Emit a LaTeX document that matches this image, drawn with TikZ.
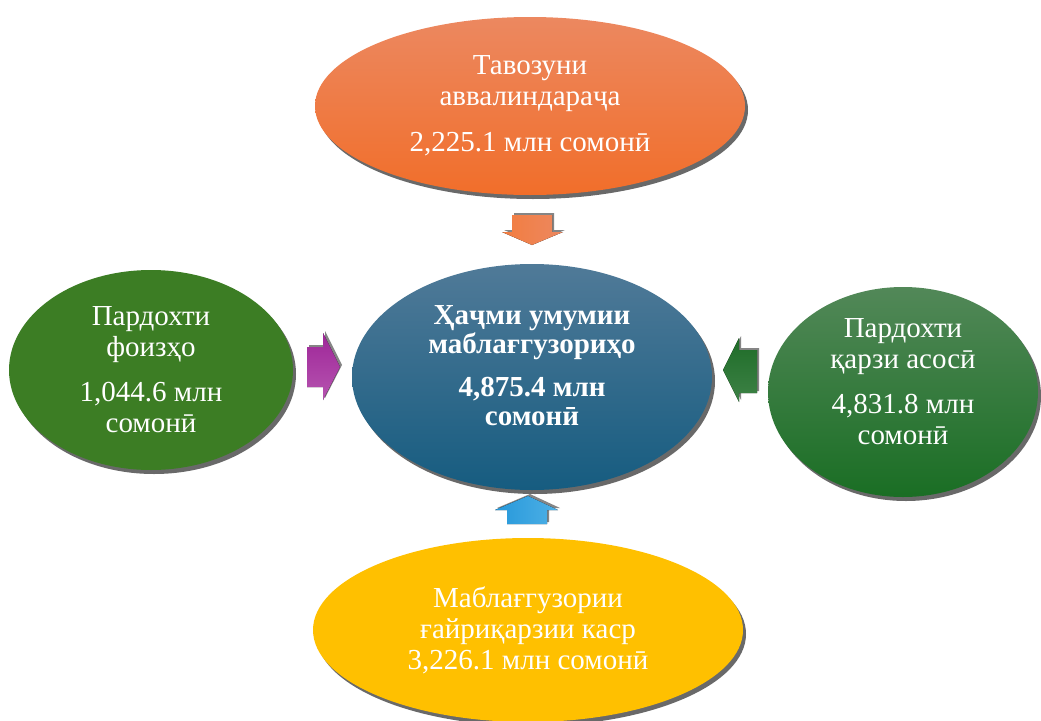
\documentclass[tikz,border=0pt]{standalone}
\usepackage{fontspec}
\setmainfont{Liberation Serif}
\usetikzlibrary{shapes.geometric}
\usetikzlibrary{shadows}

\definecolor{orangeTop}{RGB}{236,136,96}
\definecolor{orangeBot}{RGB}{241,110,42}
\definecolor{blueTop}{RGB}{80,122,152}
\definecolor{blueBot}{RGB}{22,92,128}
\definecolor{leafGreen}{RGB}{60,125,36}
\definecolor{forestTop}{RGB}{82,136,88}
\definecolor{forestBot}{RGB}{26,110,36}
\definecolor{goldFill}{RGB}{255,192,0}

\begin{document}
\begin{tikzpicture}[x=1pt,y=-1pt,
    blob/.style={ellipse,inner sep=0pt,
        drop shadow={shadow xshift=3pt,shadow yshift=-4pt,fill=black!65,opacity=0.9}},
    blobtext/.style={inner sep=0pt,text=white,align=center,
        font=\fontsize{29}{31}\selectfont},
    blockarrow/.style={
        drop shadow={shadow xshift=2pt,shadow yshift=2pt,fill=black!60,opacity=0.8}}]
    \useasboundingbox (0,0) rectangle (1041,720);

    % the total in the middle
    \node[blob,minimum width=360pt,minimum height=226pt,
        top color=blueTop,bottom color=blueBot] (total) at (532,377) {};
    \node[blobtext,font=\fontsize{29}{29}\selectfont\bfseries] (totalText) at (532,366)
        {Ҳаҷми умумии\\маблағгузориҳо\\[14pt]4,875.4 млн\\сомонӣ};

    % the four parts round it
    \node[blob,minimum width=430pt,minimum height=178pt,
        top color=orangeTop,bottom color=orangeBot] (issue) at (530,106) {};
    \node[blobtext] (issueText) at (530,106)
        {Тавозуни\\аввалиндараҷа\\[15pt]2,225.1 млн сомонӣ};
    \node[blob,minimum width=284pt,minimum height=200pt,
        fill=leafGreen] (interest) at (151,370) {};
    \node[blobtext] (interestText) at (151,370)
        {Пардохти\\фоизҳо\\[14pt]1,044.6 млн\\сомонӣ};
    \node[blob,minimum width=270pt,minimum height=210pt,
        top color=forestTop,bottom color=forestBot] (principal) at (903,392) {};
    \node[blobtext] (principalText) at (903,382)
        {Пардохти\\қарзи асосӣ\\[14pt]4,831.8 млн\\сомонӣ};
    \node[blob,minimum width=430pt,minimum height=184pt,
        fill=goldFill] (deficit) at (528,630) {};
    \node[blobtext] (deficitText) at (528,630)
        {Маблағгузории\\ғайриқарзии каср\\3,226.1 млн сомонӣ};

    % block arrows into the total
    \fill[blockarrow,left color=orangeBot!90!white,right color=orangeTop]
        (512,215) -- (552,215) -- (552,232) -- (563,232) -- (532,245)
        -- (502,232) -- (512,232) -- cycle;
    \fill[blockarrow,top color={rgb,255:red,158;green,38;blue,152},
        bottom color={rgb,255:red,182;green,84;blue,176}]
        (307,347) -- (323,347) -- (323,333) -- (340,367) -- (323,400)
        -- (323,387) -- (307,387) -- cycle;
    \fill[blockarrow,top color={rgb,255:red,30;green,108;blue,40},
        bottom color={rgb,255:red,62;green,130;blue,70}]
        (757,350) -- (739,350) -- (739,338) -- (723,370) -- (739,402)
        -- (739,393) -- (757,393) -- cycle;
    \fill[blockarrow,left color={rgb,255:red,38;green,152;blue,218},
        right color={rgb,255:red,78;green,176;blue,230}]
        (507,524) -- (507,510) -- (495,510) -- (528,496) -- (558,510)
        -- (547,510) -- (547,524) -- cycle;
\end{tikzpicture}
\end{document}
